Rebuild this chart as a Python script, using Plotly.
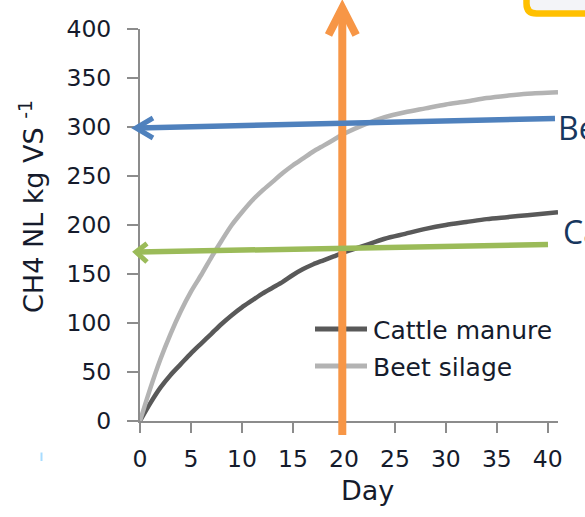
import plotly.graph_objects as go

# ---- data ----
days = [0, 1, 2, 3, 4, 5, 6, 7, 8, 9, 10, 11, 12, 13, 14, 15, 16, 17, 18, 19, 20,
        22, 24, 26, 28, 30, 32, 34, 36, 38, 41]
cattle_manure = [0, 18, 34, 47, 58, 69, 79, 89, 99, 108, 116, 123, 130, 136, 142, 149,
                 155, 160, 164, 168, 172, 179, 186, 191, 196, 200, 203, 206, 208, 210, 213]
beet_silage = [0, 33, 63, 89, 112, 132, 149, 167, 184, 200, 213, 225, 235, 244, 253, 261,
               268, 275, 281, 287, 293, 302.5, 310, 315, 319, 323, 326, 329.5, 332, 334, 335.5]
x_ticks = [0, 5, 10, 15, 20, 25, 30, 35, 40]
y_ticks = [0, 50, 100, 150, 200, 250, 300, 350, 400]
series_names = ["Cattle manure", "Beet silage"]
series_colors = ["#595959", "#b3b3b3"]

W, H = 585, 517
ML, MR, MT, MB = 140, 27, 29, 96
PW, PH = W - ML - MR, H - MT - MB


def px(x):
    return (x - ML) / PW


def py(y):
    return (H - MB - y) / PH


text_color = "#151b2c"
axis_color = "#8c8c8c"
font_family = "DejaVu Sans"

fig = go.Figure()
for name, vals, col in zip(series_names, [cattle_manure, beet_silage], series_colors):
    fig.add_trace(go.Scatter(x=days, y=vals, mode="lines", name=name,
                             line=dict(color=col, width=4.5, shape="spline", smoothing=0.8),
                             showlegend=False, hoverinfo="skip"))

shapes = []
annotations = []

# legend (drawn manually)
leg_y = [329, 366]
for name, col, ly in zip(series_names, series_colors, leg_y):
    shapes.append(dict(type="line", xref="paper", yref="paper",
                       x0=px(315), x1=px(367), y0=py(ly), y1=py(ly),
                       line=dict(color=col, width=5)))
    annotations.append(dict(text=name, xref="paper", yref="paper", x=px(371), y=py(ly + 1),
                            xanchor="left", yanchor="middle", showarrow=False,
                            font=dict(family=font_family, size=25, color=text_color)))

# axis titles
annotations.append(dict(text="CH4 NL kg VS <sup>-1</sup>", xref="paper", yref="paper",
                        x=px(31), y=py(207), textangle=-90, xanchor="center", yanchor="middle",
                        showarrow=False, font=dict(family=font_family, size=27, color=text_color)))
annotations.append(dict(text="Day", xref="paper", yref="paper", x=px(367.5), y=py(490),
                        xanchor="center", yanchor="middle", showarrow=False,
                        font=dict(family=font_family, size=27, color=text_color)))

# cropped slide labels on the right
annotations.append(dict(text="Beet silage", xref="paper", yref="paper", x=px(556), y=py(128),
                        xanchor="left", yanchor="middle", showarrow=False,
                        font=dict(family="Open Sans", size=32, color="#17375e")))
annotations.append(dict(text="Cattle manure", xref="paper", yref="paper", x=px(561), y=py(231),
                        xanchor="left", yanchor="middle", showarrow=False,
                        font=dict(family="Open Sans", size=32, color="#17375e")))


def seg(x0, y0, x1, y1, col, w):
    shapes.append(dict(type="line", xref="paper", yref="paper",
                       x0=px(x0), y0=py(y0), x1=px(x1), y1=py(y1),
                       line=dict(color=col, width=w)))


def chevron(pts, col, w):
    d = "M " + " L ".join(f"{px(a):.5f},{py(b):.5f}" for a, b in pts)
    shapes.append(dict(type="path", xref="paper", yref="paper", path=d,
                       line=dict(color=col, width=w)))


# orange vertical arrow
seg(342.3, 435, 342.3, 9, "#f79646", 8)
chevron([(328.5, 35), (342.3, 8), (356.1, 35)], "#f79646", 8)
# blue arrow
seg(555, 118.5, 138, 128, "#4f81bd", 5.5)
chevron([(153, 118), (136, 128), (153, 138)], "#4f81bd", 5)
# green arrow
seg(548, 244.5, 138, 252, "#9bbb59", 5.5)
chevron([(147, 243.5), (136, 252), (147, 262)], "#9bbb59", 5)

# yellow rounded box (top right)
box = (f"M {px(526.5)},{py(-20)} L {px(526.5)},{py(3.5)} "
       f"Q {px(526.5)},{py(13.5)} {px(536.5)},{py(13.5)} L {px(600)},{py(13.5)} "
       f"L {px(600)},{py(-20)} Z")
shapes.append(dict(type="path", xref="paper", yref="paper", path=box,
                   line=dict(color="#ffc000", width=6.5), fillcolor="#f3f4f8"))

# tiny blue mark
seg(41.5, 452.5, 41.5, 461, "#a8dcff", 2)

axis_common = dict(showline=True, linecolor=axis_color, linewidth=2,
                   ticks="outside", tickcolor=axis_color, tickwidth=2,
                   showgrid=False, zeroline=False,
                   tickfont=dict(family=font_family, size=23.5, color=text_color))

fig.update_layout(
    width=W, height=H,
    margin=dict(l=ML, r=MR, t=MT, b=MB, pad=0),
    paper_bgcolor="white", plot_bgcolor="white",
    showlegend=False,
    xaxis=dict(range=[0, 41], tickvals=x_ticks, ticklen=10, ticklabelstandoff=6, **axis_common),
    yaxis=dict(range=[0, 400], tickvals=y_ticks, ticklen=11, ticklabelstandoff=11, **axis_common),
    shapes=shapes,
    annotations=annotations,
)

fig.write_html("out.html",
               config={"displayModeBar": False, "staticPlot": True},
               post_script="document.body.style.margin='0';document.body.style.overflow='hidden';")
